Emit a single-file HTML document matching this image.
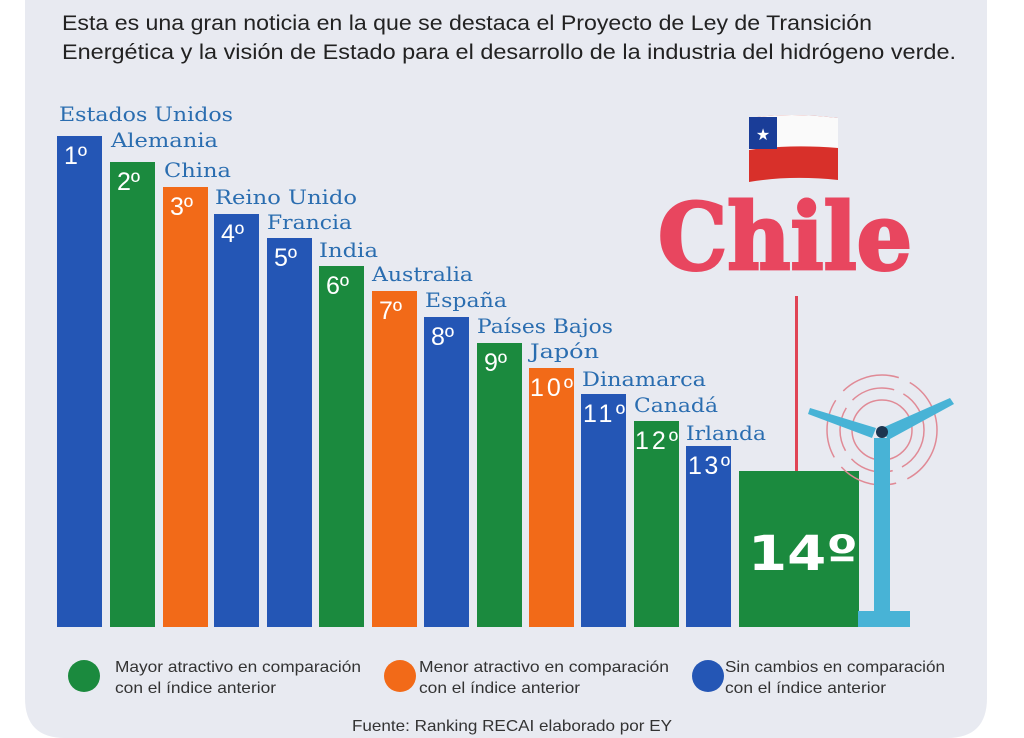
<!DOCTYPE html>
<html><head><meta charset="utf-8"><style>
html,body{margin:0;padding:0;background:#fff;}
svg{display:block;}
</style></head><body>
<svg width="1024" height="738" viewBox="0 0 1024 738" xmlns="http://www.w3.org/2000/svg">
<path d="M25 0 H987 V698 Q987 738 947 738 H65 Q25 738 25 698 Z" fill="#e8eaf1"/>
<g font-family="Liberation Sans, sans-serif" font-size="21" fill="#222">
<text x="62" y="30" textLength="810" lengthAdjust="spacingAndGlyphs">Esta es una gran noticia en la que se destaca el Proyecto de Ley de Transición</text>
<text x="62" y="59" textLength="894" lengthAdjust="spacingAndGlyphs">Energética y la visión de Estado para el desarrollo de la industria del hidrógeno verde.</text>
</g>
<g id="bars">
<rect x="57" y="136" width="45" height="491" fill="#2456b5"/>
<rect x="110" y="162" width="45" height="465" fill="#1b8a3e"/>
<rect x="163" y="187" width="45" height="440" fill="#f26a18"/>
<rect x="214" y="214" width="45" height="413" fill="#2456b5"/>
<rect x="267" y="238" width="45" height="389" fill="#2456b5"/>
<rect x="319" y="266" width="45" height="361" fill="#1b8a3e"/>
<rect x="372" y="291" width="45" height="336" fill="#f26a18"/>
<rect x="424" y="317" width="45" height="310" fill="#2456b5"/>
<rect x="477" y="343" width="45" height="284" fill="#1b8a3e"/>
<rect x="529" y="368" width="45" height="259" fill="#f26a18"/>
<rect x="581" y="394" width="45" height="233" fill="#2456b5"/>
<rect x="634" y="421" width="45" height="206" fill="#1b8a3e"/>
<rect x="686" y="446" width="45" height="181" fill="#2456b5"/>
<rect x="739" y="471" width="120" height="156" fill="#1b8a3e"/>
</g>
<g font-family="Liberation Sans, sans-serif" font-size="25" fill="#fff">
<text x="64" y="164">1º</text><text x="117" y="190">2º</text><text x="170" y="215">3º</text>
<text x="221" y="242">4º</text><text x="274" y="266">5º</text><text x="326" y="294">6º</text>
<text x="379" y="319">7º</text><text x="431" y="345">8º</text><text x="484" y="371">9º</text>
<text x="530" y="396" textLength="43">10º</text><text x="583" y="422" textLength="42">11º</text>
<text x="635" y="449" textLength="43">12º</text><text x="688" y="474" textLength="42">13º</text>
</g>
<g font-family="DejaVu Serif, Liberation Serif, serif" font-size="20" fill="#2a6db0">
<text x="59" y="121" textLength="174" lengthAdjust="spacingAndGlyphs">Estados Unidos</text>
<text x="111" y="147" textLength="107" lengthAdjust="spacingAndGlyphs">Alemania</text>
<text x="164" y="177" textLength="67" lengthAdjust="spacingAndGlyphs">China</text>
<text x="215" y="204" textLength="142" lengthAdjust="spacingAndGlyphs">Reino Unido</text>
<text x="267" y="229" textLength="85" lengthAdjust="spacingAndGlyphs">Francia</text>
<text x="319" y="257" textLength="59" lengthAdjust="spacingAndGlyphs">India</text>
<text x="372" y="281" textLength="101" lengthAdjust="spacingAndGlyphs">Australia</text>
<text x="425" y="307" textLength="82" lengthAdjust="spacingAndGlyphs">España</text>
<text x="477" y="333" textLength="136" lengthAdjust="spacingAndGlyphs">Países Bajos</text>
<text x="530" y="358" textLength="69" lengthAdjust="spacingAndGlyphs">Japón</text>
<text x="582" y="386" textLength="124" lengthAdjust="spacingAndGlyphs">Dinamarca</text>
<text x="634" y="412" textLength="84" lengthAdjust="spacingAndGlyphs">Canadá</text>
<text x="686" y="440" textLength="80" lengthAdjust="spacingAndGlyphs">Irlanda</text>
</g>
<text x="658" y="269" font-family="DejaVu Serif, serif" font-weight="bold" font-size="92" fill="#e8465f" stroke="#e8465f" stroke-width="3" textLength="254" lengthAdjust="spacingAndGlyphs">Chile</text>
<rect x="795" y="296" width="3" height="175" fill="#e04455"/>
<g>
<path d="M749 118 Q790 112 838 118 V180 Q790 175 749 182 Z" fill="#d8302a"/>
<path d="M749 118 Q790 112 838 118 V148 Q790 144 749 150 Z" fill="#fafafa"/>
<rect x="749" y="117" width="28" height="32" fill="#1a3d98"/>
<text x="763" y="140" font-size="16" fill="#fff" text-anchor="middle">★</text>
</g>
<text x="748" y="570" font-family="DejaVu Sans, sans-serif" font-weight="bold" font-size="48" fill="#fff" textLength="110" lengthAdjust="spacingAndGlyphs">14º</text>
<g fill="none" stroke="#e08a96" stroke-width="1.5">
<circle cx="882" cy="430" r="55" stroke-dasharray="60 12"/>
<circle cx="882" cy="430" r="42" stroke-dasharray="45 10"/>
<circle cx="882" cy="430" r="30"/>
</g>
<g fill="#48b3d6">
<rect x="874" y="438" width="16" height="180"/>
<rect x="858" y="611" width="52" height="16"/>
<polygon points="810,408 876,428 872,438 808,414"/>
<polygon points="882,428 950,398 954,404 888,440"/>
</g>
<circle cx="882" cy="432" r="6" fill="#1d3550"/>
<g font-family="Liberation Sans, sans-serif" font-size="16" fill="#333">
<ellipse cx="84" cy="676" rx="16" ry="16" fill="#1b8a3e"/>
<text x="115" y="672" textLength="246" lengthAdjust="spacingAndGlyphs">Mayor atractivo en comparación</text><text x="115" y="693" textLength="161" lengthAdjust="spacingAndGlyphs">con el índice anterior</text>
<ellipse cx="400" cy="676" rx="16" ry="16" fill="#f26a18"/>
<text x="419" y="672" textLength="250" lengthAdjust="spacingAndGlyphs">Menor atractivo en comparación</text><text x="419" y="693" textLength="161" lengthAdjust="spacingAndGlyphs">con el índice anterior</text>
<ellipse cx="708" cy="676" rx="16" ry="16" fill="#2456b5"/>
<text x="725" y="672" textLength="220" lengthAdjust="spacingAndGlyphs">Sin cambios en comparación</text><text x="725" y="693" textLength="161" lengthAdjust="spacingAndGlyphs">con el índice anterior</text>
<text x="352" y="731" textLength="320" lengthAdjust="spacingAndGlyphs">Fuente: Ranking RECAI elaborado por EY</text>
</g>
</svg>
</body></html>
